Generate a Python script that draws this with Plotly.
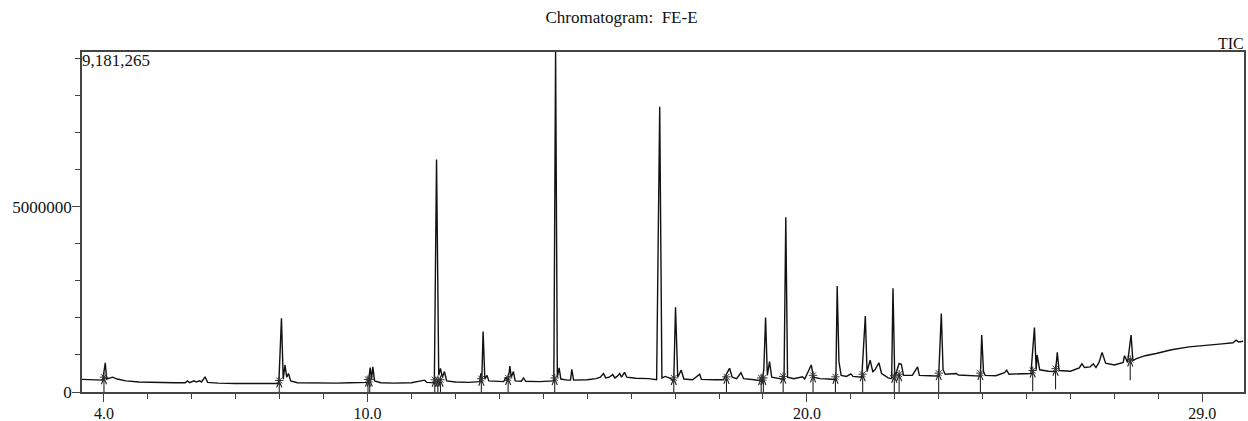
import plotly.graph_objects as go

# ---- data ----
# retention time (min) and TIC signal (counts)
time_min = [
    3.5, 3.8, 3.97, 4.0, 4.03, 4.06, 4.1, 4.2, 4.3, 4.5, 4.8, 5.2, 5.6, 5.85, 5.9, 5.95,
    6.05, 6.1, 6.18, 6.22, 6.3, 6.36, 6.6, 7.0, 7.5, 7.98, 8.04, 8.08, 8.12, 8.16, 8.2,
    8.25, 8.4, 8.8, 9.0, 9.3, 9.6, 9.9, 10.02, 10.06, 10.09, 10.12, 10.16, 10.3, 10.6,
    11.0, 11.3, 11.35, 11.52, 11.57, 11.62, 11.66, 11.7, 11.75, 11.8, 12.0, 12.3, 12.55,
    12.58, 12.6, 12.63, 12.67, 12.72, 12.76, 13.0, 13.1, 13.15, 13.18, 13.22, 13.24,
    13.27, 13.32, 13.36, 13.5, 13.55, 13.6, 13.9, 14.1, 14.24, 14.28, 14.32, 14.36, 14.4,
    14.55, 14.62, 14.65, 14.69, 15.0, 15.2, 15.3, 15.37, 15.42, 15.5, 15.58, 15.63, 15.68,
    15.74, 15.78, 15.85, 15.9, 16.1, 16.4, 16.58, 16.65, 16.7, 16.78, 16.9, 16.97, 17.01,
    17.06, 17.14, 17.2, 17.4, 17.56, 17.6, 17.9, 18.1, 18.2, 18.24, 18.3, 18.4, 18.5,
    18.56, 18.8, 18.98, 19.02, 19.06, 19.1, 19.15, 19.2, 19.4, 19.48, 19.52, 19.56, 19.7,
    19.9, 19.95, 20.1, 20.15, 20.3, 20.5, 20.66, 20.69, 20.73, 20.78, 20.9, 21.0, 21.05,
    21.25, 21.33, 21.37, 21.44, 21.5, 21.55, 21.64, 21.7, 21.85, 21.93, 21.96, 22.0, 22.1,
    22.15, 22.2, 22.4, 22.52, 22.56, 22.8, 23.0, 23.06, 23.1, 23.15, 23.4, 23.45, 23.7,
    23.95, 23.98, 24.02, 24.06, 24.3, 24.5, 24.55, 24.6, 24.9, 25.1, 25.18, 25.22, 25.24,
    25.3, 25.5, 25.66, 25.70, 25.74, 26.0, 26.2, 26.26, 26.32, 26.45, 26.52, 26.58, 26.65,
    26.72, 26.8, 27.0, 27.2, 27.23, 27.3, 27.38, 27.42, 27.5, 27.7, 27.95, 28.3, 28.7,
    29.0, 29.45, 29.7, 29.77, 29.83, 29.93,
]
tic_counts = [
    340000, 330000, 320000, 550000, 790000, 350000, 360000, 400000, 350000, 300000, 270000,
    250000, 250000, 250000, 300000, 250000, 300000, 270000, 300000, 270000, 410000, 260000,
    240000, 230000, 230000, 230000, 1990000, 350000, 730000, 400000, 500000, 300000, 250000,
    240000, 250000, 240000, 250000, 250000, 260000, 660000, 350000, 680000, 300000, 250000,
    240000, 250000, 320000, 260000, 250000, 6280000, 450000, 640000, 400000, 550000, 300000,
    270000, 260000, 280000, 500000, 300000, 1630000, 350000, 450000, 300000, 280000, 280000,
    400000, 300000, 500000, 700000, 400000, 550000, 300000, 290000, 380000, 290000, 280000,
    300000, 300000, 9181265, 400000, 650000, 350000, 320000, 320000, 610000, 320000, 330000,
    360000, 400000, 500000, 380000, 400000, 470000, 380000, 420000, 500000, 400000, 530000,
    400000, 370000, 360000, 330000, 7700000, 380000, 420000, 360000, 300000, 2290000, 400000,
    590000, 350000, 330000, 480000, 340000, 330000, 330000, 550000, 640000, 400000, 360000,
    520000, 360000, 330000, 300000, 600000, 2010000, 450000, 820000, 400000, 360000, 340000,
    4720000, 400000, 360000, 410000, 350000, 730000, 400000, 360000, 350000, 330000, 2860000,
    820000, 450000, 420000, 490000, 420000, 400000, 2050000, 550000, 860000, 550000, 600000,
    790000, 500000, 380000, 360000, 2800000, 400000, 770000, 750000, 450000, 450000, 680000,
    450000, 440000, 430000, 2120000, 600000, 480000, 500000, 460000, 440000, 430000, 1540000,
    550000, 450000, 440000, 520000, 590000, 480000, 490000, 500000, 1740000, 600000, 1000000,
    600000, 560000, 550000, 1070000, 580000, 560000, 650000, 760000, 660000, 680000, 760000,
    660000, 800000, 1070000, 780000, 730000, 800000, 980000, 800000, 1540000, 850000, 900000,
    980000, 1040000, 1140000, 1220000, 1260000, 1300000, 1330000, 1400000, 1350000, 1370000,
]

# integration start markers (time, baseline level)
marker_time = [4.0, 7.99, 10.01, 10.05, 11.53, 11.6, 11.66, 12.59, 13.2, 14.26, 16.97,
               18.17, 18.96, 19.01, 19.46, 20.14, 20.65, 21.27, 21.99, 22.1, 23.0, 23.95,
               25.14, 25.66, 27.36]
marker_base = [320000, 230000, 260000, 260000, 250000, 250000, 250000, 280000, 300000,
               300000, 300000, 330000, 300000, 300000, 340000, 370000, 330000, 400000,
               360000, 400000, 430000, 430000, 500000, 550000, 800000]

max_count = 9181265
x_major_ticks = [4.0, 10.0, 20.0, 29.0]
x_major_labels = ["4.0", "10.0", "20.0", "29.0"]
y_major_ticks = [0, 5000000]
y_major_labels = ["0", "5000000"]

# ---- build arrow polylines (style offsets only) ----
ax, ay = [], []
for t, b in zip(marker_time, marker_base):
    tip = b + 60000
    ax += [t, t, None, t - 0.06, t, t + 0.06, None]
    ay += [tip, b - 480000, None, tip - 170000, tip, tip - 170000, None]

FONT = "Liberation Serif"
INK = "#111111"
AXC = "#444444"

fig = go.Figure()
fig.add_trace(go.Scatter(x=time_min, y=tic_counts, mode="lines",
                         line=dict(color=INK, width=1.4), hoverinfo="skip",
                         showlegend=False))
fig.add_trace(go.Scatter(x=ax, y=ay, mode="lines",
                         line=dict(color="#222222", width=1.1), hoverinfo="skip",
                         showlegend=False))
fig.add_trace(go.Scatter(x=marker_time, y=[b + 80000 for b in marker_base], mode="markers",
                         marker=dict(symbol="asterisk-open", size=7, color="#333333",
                                     line=dict(color="#333333", width=1)),
                         hoverinfo="skip", showlegend=False))

fig.update_layout(
    width=1248, height=421,
    margin=dict(l=82, r=4, t=52, b=29, autoexpand=False),
    paper_bgcolor="white", plot_bgcolor="white",
    font=dict(family=FONT, size=17, color=INK),
    title=dict(text="Chromatogram:  FE-E", x=0.498, xref="container", xanchor="center",
               y=0.96, yref="container", yanchor="middle",
               font=dict(family=FONT, size=17, color=INK)),
    showlegend=False,
)
fig.update_xaxes(range=[3.5, 29.95], tickmode="array", tickvals=x_major_ticks,
                 ticktext=x_major_labels, ticks="outside", ticklen=8, tickwidth=1,
                 tickcolor=AXC, showline=True, linecolor=AXC, linewidth=1.5,
                 mirror=True, showgrid=False, zeroline=False, automargin=False,
                 ticklabelstandoff=-2,
                 minor=dict(dtick=1, tick0=0, ticks="outside", ticklen=5,
                            tickcolor=AXC, showgrid=False),
                 tickfont=dict(family=FONT, size=16, color=INK))
fig.update_yaxes(range=[0, max_count], tickmode="array", tickvals=y_major_ticks,
                 ticktext=y_major_labels, ticks="outside", ticklen=8, tickwidth=1,
                 tickcolor=AXC, showline=True, linecolor=AXC, linewidth=1.5,
                 mirror=True, showgrid=False, zeroline=False, automargin=False,
                 ticklabelstandoff=-3,
                 minor=dict(dtick=1000000, tick0=0, ticks="outside", ticklen=5,
                            tickcolor=AXC, showgrid=False),
                 tickfont=dict(family=FONT, size=17, color=INK))

fig.add_annotation(text="{:,}".format(max_count), xref="paper", yref="paper",
                   x=0, y=1, xanchor="left", yanchor="top", showarrow=False,
                   xshift=-2, yshift=3, font=dict(family=FONT, size=17, color=INK))
fig.add_annotation(text="TIC", xref="paper", yref="paper", x=1, y=1,
                   xanchor="right", yanchor="bottom", showarrow=False,
                   xshift=2, yshift=-2, font=dict(family=FONT, size=16, color=INK))

# remove the default 8px page margin so the figure fills the 1248x421 window
fig.write_html("out.html", config={"displayModeBar": False},
               post_script="document.body.style.margin='0';document.body.style.overflow='hidden';")
